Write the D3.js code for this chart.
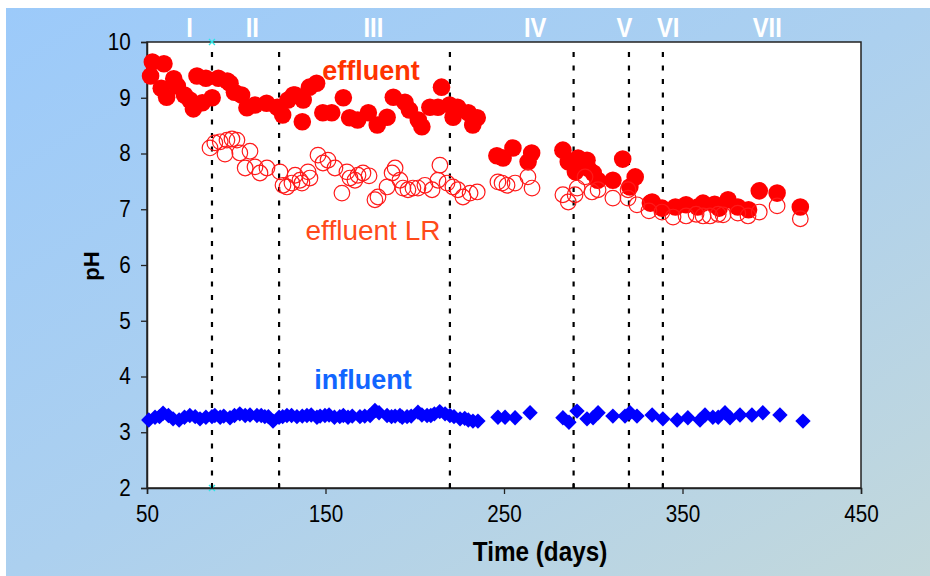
<!DOCTYPE html>
<html>
<head>
<meta charset="utf-8">
<script src="https://cdn.jsdelivr.net/npm/d3@7"></script>
<style>
  html, body { margin: 0; padding: 0; background: #fff; }
  svg { display: block; }
</style>
</head>
<body>
<div id="chart"></div>
<script>
// effluent pH (filled red circles): [day, pH]
var effluent = [
  [52, 9.39], [53, 9.64], [58, 9.17], [59.5, 9.61], [61, 9.01], [65, 9.34], [67, 9.21],
  [71, 9.05], [74, 8.96], [76, 8.8], [78, 9.39], [81, 8.91], [83, 9.35], [86.5, 9.0],
  [90, 9.35], [95, 9.3], [96.5, 9.26], [99, 9.1], [103, 9.05], [106, 8.82], [110.5, 8.87],
  [117, 8.9], [123, 8.83], [126, 8.69], [129, 8.96], [132, 9.05], [133, 9.05], [137, 8.57],
  [137.5, 8.96], [141, 9.19], [145, 9.26], [148.5, 8.73], [153.5, 8.73], [160, 9.0],
  [163.5, 8.64], [168, 8.6], [174, 8.73], [179, 8.51], [184.5, 8.65], [188, 9.01],
  [194.5, 8.92], [197, 8.78], [202, 8.6], [204, 8.48], [208.5, 8.83], [213, 8.83],
  [215, 9.19], [219.5, 8.87], [221.5, 8.65], [224, 8.83], [230, 8.73], [232.5, 8.51],
  [235, 8.64],
  [246, 7.96], [249.5, 7.92], [255, 8.1], [263.5, 7.85], [265.5, 8.01],
  [283, 8.06], [286, 7.85], [290, 7.67], [291.5, 7.92], [296.5, 7.88], [297, 7.74],
  [300, 7.65], [302.5, 7.52], [311, 7.52], [316.5, 7.9], [320.5, 7.4], [323.5, 7.58],
  [332, 7.11], [333, 7.13], [338.5, 7.02], [346, 7.04], [352, 7.08], [358.5, 7.04],
  [361.5, 7.11], [368, 7.09], [370.5, 7.02], [375.5, 7.17], [381, 7.04], [387, 6.99],
  [393, 7.33], [403, 7.29], [416, 7.04]
];

// effluent pH, LR (open red circles)
var effluentLR = [
  [85.3, 8.1], [88, 8.19], [91, 8.21], [94.8, 8.24], [97.6, 8.26], [100.4, 8.24],
  [93.7, 7.99], [102, 8.01], [107.7, 8.04], [105, 7.74], [110.5, 7.76], [113.3, 7.65],
  [117.2, 7.74], [124.5, 7.67], [126.2, 7.43], [128.4, 7.4], [131.2, 7.47], [133, 7.61],
  [135.7, 7.52], [136.8, 7.47], [140.2, 7.67], [141.3, 7.56], [145.8, 7.97], [148.6, 7.83],
  [151.4, 7.88], [155.3, 7.74], [159.2, 7.29], [162, 7.67], [163.7, 7.56], [166.5, 7.52],
  [168.2, 7.61], [171, 7.65], [174.4, 7.6], [177.7, 7.17], [179.4, 7.22], [184.5, 7.4],
  [187.3, 7.65], [189, 7.74], [191.7, 7.52], [193.4, 7.38], [196.2, 7.35], [199, 7.38],
  [201.8, 7.38], [205.7, 7.43], [209.7, 7.35], [214.1, 7.79], [213, 7.52], [218.1, 7.47],
  [221.4, 7.4], [224.2, 7.35], [227, 7.22], [231, 7.29], [235, 7.31],
  [246.6, 7.49], [248.9, 7.47], [251.7, 7.43], [256.2, 7.47], [263.4, 7.58], [265.7, 7.38],
  [283, 7.26], [286, 7.13], [289.8, 7.26], [291, 7.38], [295.4, 7.58], [299.3, 7.31],
  [302.7, 7.35], [311, 7.2], [319.5, 7.35], [319.5, 7.2], [324.5, 7.08],
  [331.2, 6.97], [338.5, 6.95], [344.7, 6.86], [352, 6.88], [357.6, 6.91], [361.5, 6.88],
  [365.4, 6.88], [370, 6.91], [372.7, 6.9], [381, 6.93], [386.7, 6.88], [393, 6.95],
  [403, 7.06], [416, 6.83]
];

// influent pH (blue diamonds)
var influent = [
  [51, 3.22], [54.5, 3.27], [57, 3.28], [59, 3.34], [62, 3.3], [64.6, 3.24], [68, 3.22],
  [71, 3.27], [74, 3.3], [77, 3.28], [79.7, 3.24], [83, 3.27], [86.4, 3.28], [88, 3.3],
  [91, 3.27], [93, 3.29], [96.5, 3.26], [99, 3.3], [102, 3.33], [105, 3.3], [107.7, 3.31],
  [111.6, 3.3], [114, 3.3], [116, 3.28], [118, 3.28], [120.6, 3.2], [124, 3.27],
  [126, 3.28], [128.4, 3.3], [131, 3.3], [134, 3.28], [137, 3.29], [139.6, 3.3],
  [142, 3.31], [145.2, 3.27], [147, 3.29], [149.7, 3.3], [152, 3.31], [155, 3.27],
  [158, 3.28], [160, 3.3], [162.6, 3.27], [165, 3.29], [169.3, 3.28], [172, 3.29],
  [175, 3.3], [177.7, 3.39], [180, 3.35], [184.5, 3.3], [187, 3.28], [189, 3.29],
  [191.7, 3.3], [193, 3.27], [195.7, 3.28], [198, 3.29], [201.8, 3.36], [204, 3.31],
  [206.9, 3.3], [209, 3.3], [211, 3.33], [214, 3.37], [217, 3.33], [219.7, 3.3],
  [222, 3.28], [225.4, 3.24], [228, 3.25], [230, 3.22], [232.6, 3.2], [235.4, 3.2],
  [246.6, 3.27], [250.6, 3.27], [256.2, 3.26], [264.6, 3.35],
  [283, 3.26], [286.4, 3.18], [290.9, 3.38], [296.5, 3.24], [299.9, 3.26], [302.7, 3.35],
  [311, 3.29], [317.8, 3.29], [320.6, 3.35], [324.5, 3.29], [333, 3.31], [339, 3.24],
  [347, 3.22], [353, 3.26], [359.8, 3.22], [362.6, 3.31], [367, 3.27], [370, 3.27],
  [373.8, 3.35], [376.6, 3.26], [382.2, 3.31], [388.9, 3.31], [395, 3.35], [404.6, 3.31],
  [417.5, 3.2]
];

// phase boundaries (days) and phase names
var phaseBounds = [86.4, 124, 219.7, 289, 320, 339];
var phaseNames = ["I", "II", "III", "IV", "V", "VI", "VII"];
var phaseLabelDays = [73.8, 109, 176.8, 267.5, 317.5, 342, 397.5];

var xTicks = [50, 150, 250, 350, 450];
var yTicks = [2, 3, 4, 5, 6, 7, 8, 9, 10];

var W = 930, H = 576;
var plot = { left: 147, top: 42, right: 861, bottom: 488 };
var sans = 'Arial, "Liberation Sans", sans-serif';
var narrow = 0.9; // horizontal squeeze to mimic a narrow face

var svg = d3.select('#chart').append('svg')
  .attr('width', W)
  .attr('height', H);

// background gradient
var defs = svg.append('defs');
var grad = defs.append('linearGradient')
  .attr('id', 'bg')
  .attr('x1', '0%').attr('y1', '0%')
  .attr('x2', '100%').attr('y2', '100%');
grad.append('stop').attr('offset', '0%').attr('stop-color', '#9ccafa');
grad.append('stop').attr('offset', '50%').attr('stop-color', '#acd0ef');
grad.append('stop').attr('offset', '100%').attr('stop-color', '#c3d8db');

svg.append('rect')
  .attr('x', 6).attr('y', 8)
  .attr('width', W - 6).attr('height', H - 8)
  .attr('fill', 'url(#bg)');

var x = d3.scaleLinear()
  .domain([50, 450])
  .range([plot.left, plot.right]);
var y = d3.scaleLinear()
  .domain([2, 10])
  .range([plot.bottom, plot.top]);

// plot area
svg.append('rect')
  .attr('x', plot.left).attr('y', plot.top)
  .attr('width', plot.right - plot.left)
  .attr('height', plot.bottom - plot.top)
  .attr('fill', '#fff')
  .attr('stroke', '#222')
  .attr('stroke-width', 1.5);

// phase dividers
svg.selectAll('.phase')
  .data(phaseBounds)
  .enter().append('line')
  .attr('class', 'phase')
  .attr('x1', d => x(d)).attr('x2', d => x(d))
  .attr('y1', plot.top + 10).attr('y2', plot.bottom)
  .attr('stroke', '#000')
  .attr('stroke-width', 2.2)
  .attr('stroke-dasharray', '5,8.5');

// small cyan marks on the first boundary
[plot.top, plot.bottom].forEach(function(py) {
  var cx = x(phaseBounds[0]);
  svg.append('path')
    .attr('d', `M${cx - 3},${py - 3}L${cx + 3},${py + 3}M${cx + 3},${py - 3}L${cx - 3},${py + 3}`)
    .attr('stroke', '#2ee6e6')
    .attr('stroke-width', 1.3);
});

// axes
var xAxis = d3.axisBottom(x).tickValues(xTicks).tickSize(6).tickPadding(12).tickFormat(d3.format('d'));
var yAxis = d3.axisLeft(y).tickValues(yTicks).tickSize(6).tickPadding(12).tickFormat(d3.format('d'));

var gx = svg.append('g')
  .attr('class', 'axis x')
  .attr('transform', `translate(0, ${plot.bottom})`)
  .call(xAxis);
var gy = svg.append('g')
  .attr('class', 'axis y')
  .attr('transform', `translate(${plot.left}, 0)`)
  .call(yAxis);

[gx, gy].forEach(function(g) {
  g.select('.domain').attr('stroke', '#222').attr('stroke-width', 1.5);
  g.selectAll('.tick line').attr('stroke', '#222').attr('stroke-width', 1.3);
  g.selectAll('.tick text')
    .attr('fill', '#000')
    .attr('transform', `scale(${narrow},1)`)
    .style('font-size', '23px')
    .style('font-family', sans);
});

// inner small ticks at phase boundaries
svg.selectAll('.ptick')
  .data(phaseBounds)
  .enter().append('line')
  .attr('x1', d => x(d)).attr('x2', d => x(d))
  .attr('y1', plot.bottom - 5).attr('y2', plot.bottom)
  .attr('stroke', '#000').attr('stroke-width', 2);

// data marks
var plotArea = svg.append('g');

plotArea.selectAll('.eff')
  .data(effluent)
  .enter().append('circle')
  .attr('cx', d => x(d[0]))
  .attr('cy', d => y(d[1]))
  .attr('r', 8.8)
  .attr('fill', '#ff0000');

plotArea.selectAll('.lr')
  .data(effluentLR)
  .enter().append('circle')
  .attr('cx', d => x(d[0]))
  .attr('cy', d => y(d[1]))
  .attr('r', 7.8)
  .attr('fill', 'none')
  .attr('stroke', '#ff1a1a')
  .attr('stroke-width', 1.2);

var diamond = d3.symbol().type(d3.symbolSquare).size(118);
plotArea.selectAll('.inf')
  .data(influent)
  .enter().append('path')
  .attr('d', diamond)
  .attr('transform', d => `translate(${x(d[0])}, ${y(d[1])}) rotate(45)`)
  .attr('fill', '#0000ff');

// series labels
svg.append('text')
  .attr('x', 371).attr('y', 80)
  .attr('text-anchor', 'middle')
  .attr('fill', '#ff3300')
  .style('font-family', sans)
  .style('font-weight', 'bold')
  .style('font-size', '27px')
  .text('effluent');

svg.append('text')
  .attr('x', 373).attr('y', 240)
  .attr('text-anchor', 'middle')
  .attr('fill', '#ff4a1a')
  .style('font-family', sans)
  .style('font-size', '28px')
  .text('effluent LR');

svg.append('text')
  .attr('x', 363).attr('y', 389)
  .attr('text-anchor', 'middle')
  .attr('fill', '#1166ff')
  .style('font-family', sans)
  .style('font-weight', 'bold')
  .style('font-size', '27px')
  .text('influent');

// phase names
svg.selectAll('.pname')
  .data(phaseNames)
  .enter().append('text')
  .attr('transform', (d, i) => `translate(${x(phaseLabelDays[i])}, 37) scale(0.85,1)`)
  .attr('text-anchor', 'middle')
  .attr('fill', '#fff')
  .style('font-family', sans)
  .style('font-weight', 'bold')
  .style('font-size', '28px')
  .text(d => d);

// axis titles
svg.append('text')
  .attr('transform', `translate(540, 561) scale(${narrow},1)`)
  .attr('text-anchor', 'middle')
  .attr('fill', '#000')
  .style('font-family', sans)
  .style('font-weight', 'bold')
  .style('font-size', '27px')
  .text('Time (days)');

svg.append('text')
  .attr('transform', 'translate(99, 266) rotate(-90)')
  .attr('text-anchor', 'middle')
  .attr('fill', '#000')
  .style('font-family', sans)
  .style('font-weight', 'bold')
  .style('font-size', '22px')
  .text('pH');
</script>
</body>
</html>
